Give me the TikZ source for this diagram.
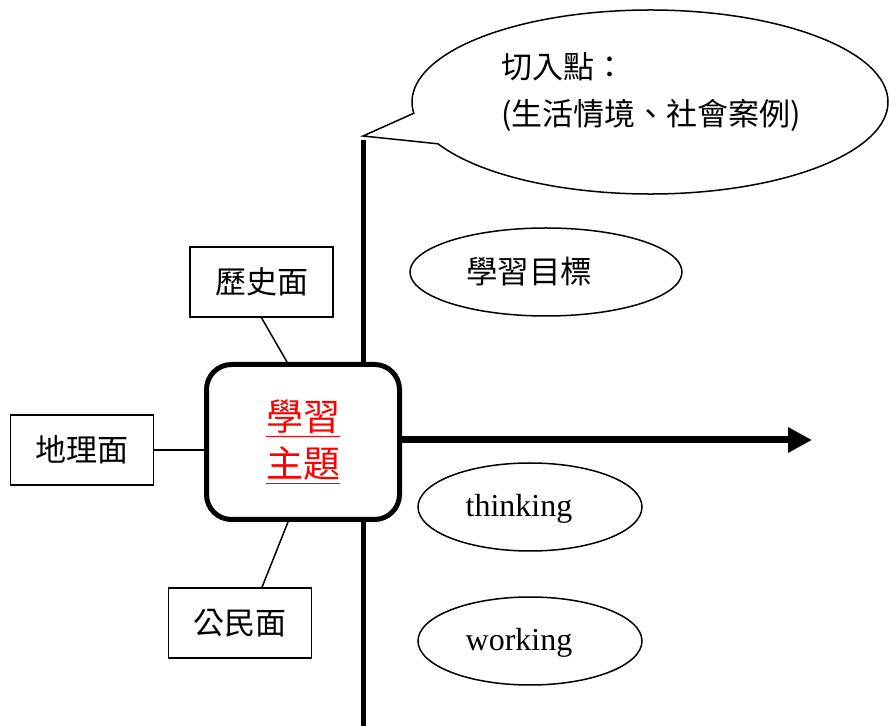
\documentclass[tikz,border=0pt]{standalone}
\usepackage{fontspec}
\setmainfont{Liberation Serif}
\newfontfamily\cjk{Noto Sans CJK TC}
\usetikzlibrary{shapes.geometric,shapes.callouts,arrows.meta}

\tikzset{
  facet/.style={draw, line width=0.75pt, minimum width=71.5pt, minimum height=35pt, inner sep=0pt, font=\cjk\fontsize{15.5}{18}\selectfont},
  oval/.style={draw, ellipse, line width=0.75pt, inner sep=0pt, minimum height=44pt},
  link/.style={line width=0.75pt},
  axis/.style={line width=2.5pt},
}

\begin{document}
\begin{tikzpicture}[x=0.5pt,y=-0.5pt]
\useasboundingbox (0,0) rectangle (889,726);

% entry point callout
\coordinate (tip) at (363,136);
\node[ellipse callout, draw, line width=0.75pt, minimum width=238pt, minimum height=92pt,
      callout absolute pointer={(tip)}, callout pointer arc=20] (entry) at (650,102) {};
\node[align=left, inner sep=0pt, font=\cjk\fontsize{15.5}{23.5}\selectfont] (entrytext) at (651,92)
  {切入點：\\(生活情境、社會案例)};

% axis
\coordinate (axtop) at (363,140);
\coordinate (axbot) at (363,726);
\draw[axis] (axtop) -- (axbot);

% topic
\node[draw, rounded corners=12.5pt, line width=2.5pt, fill=white, minimum width=96.5pt, minimum height=77.5pt,
      align=center, text=red, font=\cjk\fontsize{18.5}{23.5}\selectfont] (topic) at (303,442)
  {\underline{學習}\\\underline{主題}};

\coordinate (arrowend) at (812,440);
\draw[line width=3.5pt, -{Triangle[length=12pt,width=12pt]}] (topic.east |- arrowend) -- (arrowend);

% facets
\node[facet] (history) at (261.5,282) {歷史面};
\node[facet] (geo) at (82,450) {地理面};
\node[facet] (civic) at (240,623) {公民面};

\draw[link] (history.south) -- ([xshift=-8pt]topic.north);
\draw[link] (geo.east) -- (geo.east -| topic.west);
\draw[link] ([xshift=11pt]civic.north) -- ([xshift=-7.5pt]topic.south);

% goals
\node[oval, minimum width=136pt] (goal) at (546,272) {};
\node[font=\cjk\fontsize{15.75}{18}\selectfont] (goaltext) at (529,272) {學習目標};
\node[oval, minimum width=112pt] (thinking) at (530,507) {};
\node[font=\fontsize{16}{18}\selectfont] (thinkingtext) at (519,509) {thinking};
\node[oval, minimum width=112pt] (working) at (530,641) {};
\node[font=\fontsize{16}{18}\selectfont] (workingtext) at (519,643) {working};
\end{tikzpicture}
\end{document}
